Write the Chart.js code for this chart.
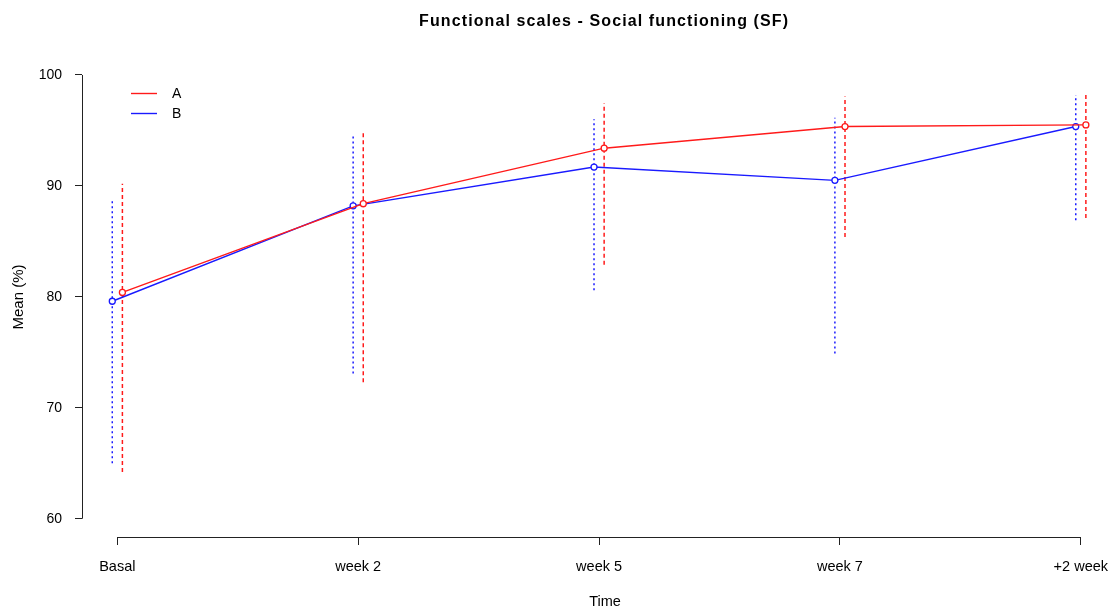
<!DOCTYPE html>
<html>
<head>
<meta charset="utf-8">
<title>Functional scales - Social functioning (SF)</title>
<script src="https://cdn.jsdelivr.net/npm/chart.js@4/dist/chart.umd.min.js"></script>
<style>
  html, body { margin: 0; padding: 0; background: #fff; }
  canvas { display: block; }
</style>
</head>
<body>
<canvas id="chart" width="1111" height="609"></canvas>
<script>
// categories along the time axis
const timeLabels = ['Basal', 'week 2', 'week 5', 'week 7', '+2 week'];

// group A: mean and interval ends
const meanA = [80.4, 88.4, 93.4, 95.35, 95.5];
const lowA  = [64.2, 72.3, 82.9, 85.4, 87.1];
const highA = [90.2, 94.8, 97.45, 98.05, 98.2];

// group B: mean and interval ends
const meanB = [79.6, 88.2, 91.7, 90.5, 95.35];
const lowB  = [65.0, 73.1, 80.6, 74.9, 86.9];
const highB = [88.8, 94.6, 96.0, 96.15, 98.2];

const yTicks = [60, 70, 80, 90, 100];

const chartTitle = 'Functional scales - Social functioning (SF)';
const xTitle = 'Time';

const RED = '#ff1a1a';
const BLUE = '#1a1aff';
const FONT = "'Liberation Sans', Arial, sans-serif";

// small horizontal shift so the two groups don't overlap
const shiftA = 0.021;
const shiftB = -0.021;

function points(values, shift) {
    return values.map((v, i) => ({ x: i + 1 + shift, y: v }));
}

function errorBars(lows, highs, shift, color, dash) {
    return lows.map((lo, i) => ({
        label: '',
        data: [{ x: i + 1 + shift, y: lo }, { x: i + 1 + shift, y: highs[i] }],
        borderColor: color,
        borderWidth: 1.5,
        borderDash: dash,
        pointRadius: 0,
        fill: false,
        isErrorBar: true
    }));
}

const datasets = [
    {
        label: 'A',
        data: points(meanA, shiftA),
        borderColor: RED,
        borderWidth: 1.4,
        pointRadius: 3,
        pointBorderWidth: 1.3,
        pointBackgroundColor: '#fff',
        pointBorderColor: RED,
        fill: false
    },
    {
        label: 'B',
        data: points(meanB, shiftB),
        borderColor: BLUE,
        borderWidth: 1.4,
        pointRadius: 3,
        pointBorderWidth: 1.3,
        pointBackgroundColor: '#fff',
        pointBorderColor: BLUE,
        fill: false
    }
].concat(
    errorBars(lowA, highA, shiftA, RED, [4, 3]),
    errorBars(lowB, highB, shiftB, BLUE, [2, 3])
);

// R-style axes: the axis line only runs between the first and last tick
const rAxes = {
    id: 'rAxes',
    afterDraw(chart) {
        const ctx = chart.ctx;
        const x = chart.scales.x;
        const y = chart.scales.y;
        ctx.save();
        ctx.strokeStyle = '#222';
        ctx.lineWidth = 1;
        const yLeft = Math.round(x.left) + 0.5;
        ctx.beginPath();
        ctx.moveTo(yLeft, y.getPixelForValue(yTicks[0]));
        ctx.lineTo(yLeft, y.getPixelForValue(yTicks[yTicks.length - 1]));
        ctx.stroke();
        const xBottom = Math.round(y.bottom) + 0.5;
        ctx.beginPath();
        ctx.moveTo(x.getPixelForValue(1), xBottom);
        ctx.lineTo(x.getPixelForValue(timeLabels.length), xBottom);
        ctx.stroke();
        ctx.restore();
    }
};

// main title and x title, centred a little right of the middle category
// like the R plot region (which runs past the right edge of the image)
const rTitles = {
    id: 'rTitles',
    afterDraw(chart) {
        const ctx = chart.ctx;
        const x = chart.scales.x;
        const cx = x.getPixelForValue((1 + timeLabels.length) / 2) + 5;
        ctx.save();
        ctx.fillStyle = '#000';
        ctx.textAlign = 'center';
        ctx.textBaseline = 'middle';
        ctx.font = 'bold 16px ' + FONT;
        ctx.letterSpacing = '1.1px';
        ctx.fillText(chartTitle, cx, 22);
        ctx.letterSpacing = '0px';
        ctx.font = '14.5px ' + FONT;
        ctx.fillText(xTitle, cx + 1, 602);
        ctx.restore();
    }
};

// legend in the top-left corner of the plot, line + label
const rLegend = {
    id: 'rLegend',
    afterDraw(chart) {
        const ctx = chart.ctx;
        const area = chart.chartArea;
        const items = chart.data.datasets.filter(d => !d.isErrorBar);
        ctx.save();
        ctx.font = '14px ' + FONT;
        ctx.textBaseline = 'middle';
        ctx.fillStyle = '#000';
        items.forEach((d, i) => {
            const yy = area.top + 36.5 + i * 20;
            ctx.strokeStyle = d.borderColor;
            ctx.lineWidth = 1.4;
            ctx.beginPath();
            ctx.moveTo(area.left + 49, yy);
            ctx.lineTo(area.left + 75, yy);
            ctx.stroke();
            ctx.fillText(d.label, area.left + 90, yy + 1);
        });
        ctx.restore();
    }
};

new Chart(document.getElementById('chart'), {
    type: 'line',
    data: { datasets: datasets },
    options: {
        responsive: false,
        animation: false,
        layout: { padding: { top: 57, left: 0, bottom: 0, right: 0 } },
        plugins: {
            legend: { display: false },
            tooltip: { enabled: false },
            title: { display: false }
        },
        scales: {
            x: {
                type: 'linear',
                min: 0.8533,
                max: 5.1033,
                afterBuildTicks: scale => {
                    scale.ticks = timeLabels.map((_, i) => ({ value: i + 1 }));
                },
                afterFit: scale => {
                    scale.height = 72;
                    scale.paddingLeft = 0;
                    scale.paddingRight = 0;
                },
                ticks: {
                    autoSkip: false,
                    maxRotation: 0,
                    padding: 13,
                    color: '#000',
                    font: { family: FONT, size: 14.5 },
                    callback: v => timeLabels[Math.round(v) - 1]
                },
                grid: {
                    drawOnChartArea: false,
                    drawTicks: true,
                    tickLength: 8,
                    color: '#222'
                },
                border: { display: false }
            },
            y: {
                type: 'linear',
                min: 58.35,
                max: 101.62,
                afterBuildTicks: scale => {
                    scale.ticks = yTicks.map(v => ({ value: v }));
                },
                afterFit: scale => {
                    scale.width = 82;
                    scale.paddingTop = 0;
                    scale.paddingBottom = 0;
                },
                ticks: {
                    padding: 13,
                    color: '#000',
                    font: { family: FONT, size: 14 }
                },
                grid: {
                    drawOnChartArea: false,
                    drawTicks: true,
                    tickLength: 7,
                    color: '#222'
                },
                border: { display: false },
                title: {
                    display: true,
                    text: 'Mean (%)',
                    color: '#000',
                    font: { family: FONT, size: 15, lineHeight: 1.2 },
                    padding: { top: 10, bottom: 0 }
                }
            }
        }
    },
    plugins: [rAxes, rTitles, rLegend]
});
</script>
</body>
</html>
